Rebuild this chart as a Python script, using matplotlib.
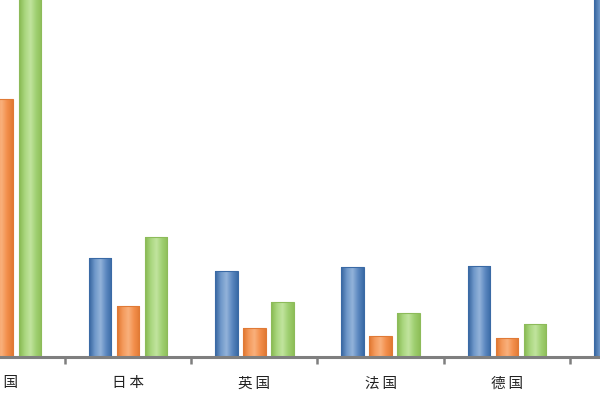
import matplotlib
matplotlib.use("Agg")
import matplotlib.pyplot as plt
import numpy as np
from matplotlib.colors import LinearSegmentedColormap

plt.rcParams['font.family'] = ['Noto Sans CJK SC', 'DejaVu Sans']

categories = ["美国", "日本", "英国", "法国", "德国", "中国"]
series_blue = [40.0, 9.9, 8.6, 9.0, 9.1, 42.0]
series_orange = [25.8, 5.1, 2.9, 2.1, 1.9, 3.0]
series_green = [40.0, 12.0, 5.5, 4.4, 3.3, 3.0]

fig = plt.figure(figsize=(6, 4), dpi=100)
ax = fig.add_axes([0, 0.1075, 1, 0.8925])

x = np.arange(len(categories))
width = 0.178
offset = 0.222

grads = {
    'blue': (['#35649E', '#6E97C9', '#93B3DA', '#5C88C0', '#3A6BA6'], '#3A6AA5'),
    'orange': (['#E0752E', '#F49A5C', '#F9B07C', '#F38F4C', '#E27A34'], '#E07A36'),
    'green': (['#86B94F', '#A9D67E', '#C1E49E', '#A0D072', '#8EBF58'], '#8DBB5A'),
}

def draw(vals, pos, key):
    cols, edge = grads[key]
    bars = ax.bar(pos, vals, width, facecolor='none', edgecolor=edge, linewidth=0.8, zorder=3)
    cmap = LinearSegmentedColormap.from_list(key, cols)
    g = np.linspace(0, 1, 64).reshape(1, -1)
    for b in bars:
        x0, y0 = b.get_x(), b.get_y()
        w, h = b.get_width(), b.get_height()
        im = ax.imshow(g, cmap=cmap, aspect='auto', extent=[x0, x0 + w, y0, y0 + h],
                       zorder=2, interpolation='bilinear')
        im.set_clip_path(b)

draw(series_blue, x - offset, 'blue')
draw(series_orange, x, 'orange')
draw(series_green, x + offset, 'green')

for s in ['top', 'right', 'left']:
    ax.spines[s].set_visible(False)
ax.spines['bottom'].set_color('#7F7F7F')
ax.spines['bottom'].set_linewidth(2.2)
ax.spines['bottom'].set_zorder(4)

ax.set_yticks([])
ax.set_xticks(x)
ax.set_xticklabels(["\u2009".join(c) for c in categories], fontsize=10.5, color='#222222')
ax.tick_params(axis='x', which='major', length=0, pad=14)
ax.set_xticks(np.arange(-0.5, len(categories), 1.0), minor=True)
ax.tick_params(axis='x', which='minor', length=5, width=1.8, color='#7F7F7F')

ax.set_xlim(-0.0135, 4.737)
ax.set_ylim(0, 35.7)

fig.savefig("out.png", dpi=100)
